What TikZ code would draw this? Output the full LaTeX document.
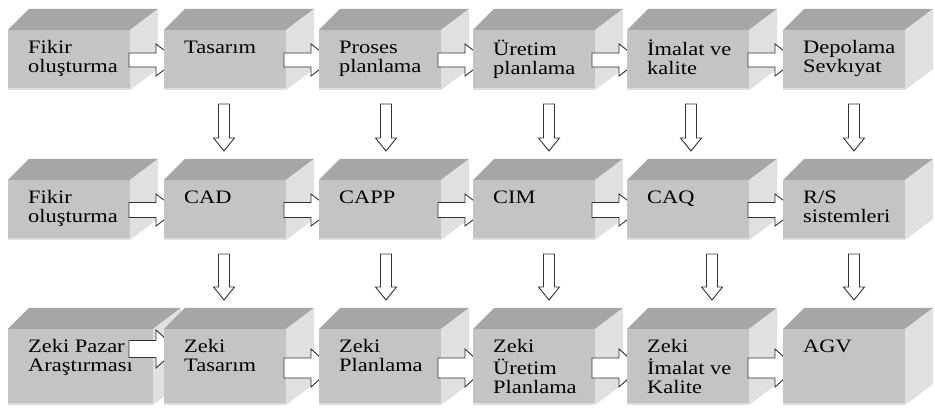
\documentclass[tikz,border=0pt]{standalone}
\usepackage{fontspec}
\setmainfont{Liberation Serif}[FakeStretch=1.18]
\usetikzlibrary{calc}

\tikzset{
  cubefront/.style={anchor=north west, minimum width=122pt, minimum height=60pt,
                    inner sep=0pt, outer sep=0pt},
  tall/.style={minimum height=76pt},
  wide/.style={minimum width=145pt},
  topface/.style={fill=black!35},
  sideface/.style={fill=black!12},
  frontface/.style={fill=black!23},
  rim/.style={fill=black!13},
  lbl/.style={anchor=north west, align=left, inner sep=0pt,
              font=\fontsize{19}{19}\selectfont},
  blockarrow/.style={draw=black!80, fill=white, line width=0.9pt, line join=miter},
}

% three-sided block built on a front node: top face, right face, front face, caption
\newcommand\cube[2]{%
  \fill[topface] (#1.north west) -- ++(21,-21) -- ([shift={(28,-21)}]#1.north east)
                 -- (#1.north east) -- cycle;
  \fill[sideface] (#1.north east) -- ++(28,-21) -- ([shift={(28,-21)}]#1.south east)
                 -- (#1.south east) -- cycle;
  \fill[frontface] (#1.north west) rectangle (#1.south east);
  \fill[rim] ([yshift=2pt]#1.south west) rectangle (#1.south east);
  \node[lbl] (#1t) at ([shift={(20,10)}]#1.north west) {\strut#2};
}

% hollow block arrow pointing right into the next block
% #1 source, #2 target, #3 drop below the top edge, #4 shaft half height, #5 head half height
\newcommand\harrow[5]{%
  \draw[blockarrow] let \p1=($(#1.north)+(0,#3)$), \p2=(#2.west) in
    (\x2-35pt,\y1+#4pt) -- (\x2-8pt,\y1+#4pt) -- (\x2-8pt,\y1+#5pt) -- (\x2+13pt,\y1)
    -- (\x2-8pt,\y1-#5pt) -- (\x2-8pt,\y1-#4pt) -- (\x2-35pt,\y1-#4pt) -- cycle;
}

% hollow block arrow pointing down to the next row; #3 is its x position
\newcommand\varrow[3]{%
  \draw[blockarrow] let \p1=($(#1.south)+(0,14)$), \p2=($(#2.north)+(0,-29)$) in
    (#3pt-5.5pt,\y1) -- (#3pt+5.5pt,\y1) -- (#3pt+5.5pt,\y2+13pt)
    -- (#3pt+10.5pt,\y2+13pt) -- (#3pt,\y2) -- (#3pt-10.5pt,\y2+13pt)
    -- (#3pt-5.5pt,\y2+13pt) -- cycle;
}

\begin{document}
\begin{tikzpicture}[x=1pt, y=-1pt]
\useasboundingbox[fill=white] (0,0) rectangle (935,411);

% front faces of the blocks
\path
  (8,30)    node[cubefront] (b11) {}
  (164,30)  node[cubefront] (b12) {}
  (319,30)  node[cubefront] (b13) {}
  (473,30)  node[cubefront] (b14) {}
  (627,30)  node[cubefront] (b15) {}
  (783,30)  node[cubefront] (b16) {}
  (8,180)   node[cubefront] (b21) {}
  (164,180) node[cubefront] (b22) {}
  (319,180) node[cubefront] (b23) {}
  (473,180) node[cubefront] (b24) {}
  (627,180) node[cubefront] (b25) {}
  (783,180) node[cubefront] (b26) {}
  (8,329)   node[cubefront,tall,wide] (b31) {}
  (164,329) node[cubefront,tall] (b32) {}
  (319,329) node[cubefront,tall] (b33) {}
  (473,329) node[cubefront,tall] (b34) {}
  (627,329) node[cubefront,tall] (b35) {}
  (783,329) node[cubefront,tall] (b36) {};

% first row
\cube{b11}{Fikir\\oluşturma}
\harrow{b11}{b12}{30}{7}{16}
\cube{b12}{Tasarım}
\harrow{b12}{b13}{30}{7}{16}
\cube{b13}{Proses\\planlama}
\harrow{b13}{b14}{30}{7}{16}
\cube{b14}{Üretim\\planlama}
\harrow{b14}{b15}{30}{7}{16}
\cube{b15}{İmalat ve\\kalite}
\harrow{b15}{b16}{30}{7}{16}
\cube{b16}{Depolama\\Sevkıyat}

% second row
\cube{b21}{Fikir\\oluşturma}
\harrow{b21}{b22}{30}{7.5}{16}
\cube{b22}{CAD}
\harrow{b22}{b23}{30}{7.5}{16}
\cube{b23}{CAPP}
\harrow{b23}{b24}{30}{7.5}{16}
\cube{b24}{CIM}
\harrow{b24}{b25}{30}{7.5}{16}
\cube{b25}{CAQ}
\harrow{b25}{b26}{30}{7.5}{16}
\cube{b26}{R/S\\sistemleri}

% third row
\cube{b31}{Zeki Pazar\\Araştırması}
\harrow{b31}{b32}{20}{8.5}{19}
\cube{b32}{Zeki\\Tasarım}
\harrow{b32}{b33}{39}{10}{19}
\cube{b33}{Zeki\\Planlama}
\harrow{b33}{b34}{39}{10}{19}
\cube{b34}{Zeki\\Üretim\\Planlama}
\harrow{b34}{b35}{39}{10}{19}
\cube{b35}{Zeki\\İmalat ve\\Kalite}
\harrow{b35}{b36}{39}{10}{19}
\cube{b36}{AGV}

% links between the rows
\varrow{b12}{b22}{224}
\varrow{b13}{b23}{386}
\varrow{b14}{b24}{549}
\varrow{b15}{b25}{691}
\varrow{b16}{b26}{854}
\varrow{b22}{b32}{224}
\varrow{b23}{b33}{386}
\varrow{b24}{b34}{549}
\varrow{b25}{b35}{712}
\varrow{b26}{b36}{854}
\end{tikzpicture}
\end{document}
